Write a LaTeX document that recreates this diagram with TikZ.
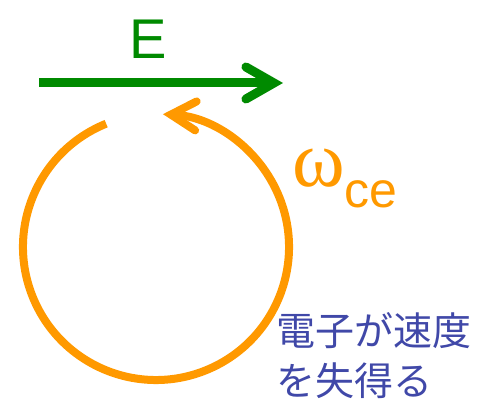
\documentclass[tikz,border=0pt]{standalone}
\usepackage{fontspec}
\setmainfont{Liberation Sans}
\newfontfamily\omegafont{Liberation Serif}
\newfontfamily\jpfont{Noto Sans CJK JP}
\usetikzlibrary{arrows.meta}

\begin{document}
\begin{tikzpicture}[x=1pt, y=1pt,
  efield/.style={line width=9pt, draw=fieldgreen,
    -{Straight Barb[length=28pt, width=32pt, line cap=round]}},
  orbit/.style={line width=8pt, draw=orbitorange,
    -{Straight Barb[length=25pt, width=29pt, line cap=round]}},
  lbl/.style={inner sep=0pt, outer sep=0pt}]
\definecolor{fieldgreen}{HTML}{008A00}\definecolor{orbitorange}{HTML}{FF9900}
\definecolor{textblue}{HTML}{4048A8}
\useasboundingbox (0,0) rectangle (482,401);
% electric field
\coordinate (efrom) at (39,318);
\coordinate (eto) at (283,318);
\draw[efield] (efrom) -- (eto);
\node[lbl, anchor=base, text=fieldgreen, font=\fontsize{56}{56}\selectfont] (elabel) at (148,342) {E};
% gyration of the electron
\coordinate (gyroc) at (156,154);
\draw[orbit] (gyroc) ++(112:133) arc[start angle=112, end angle=447, radius=133];
\node[lbl, anchor=base west, text=orbitorange] (wce) at (292,214)
  {{\omegafont\fontsize{80}{80}\selectfont ω}\raisebox{-21pt}{\fontsize{50}{50}\selectfont ce}};
% caption
\node[lbl, anchor=north west, align=left, text=textblue,
  font=\jpfont\fontsize{39}{50}\selectfont] (loss) at (276,88) {電子が速度\\を失得る};
\end{tikzpicture}
\end{document}
